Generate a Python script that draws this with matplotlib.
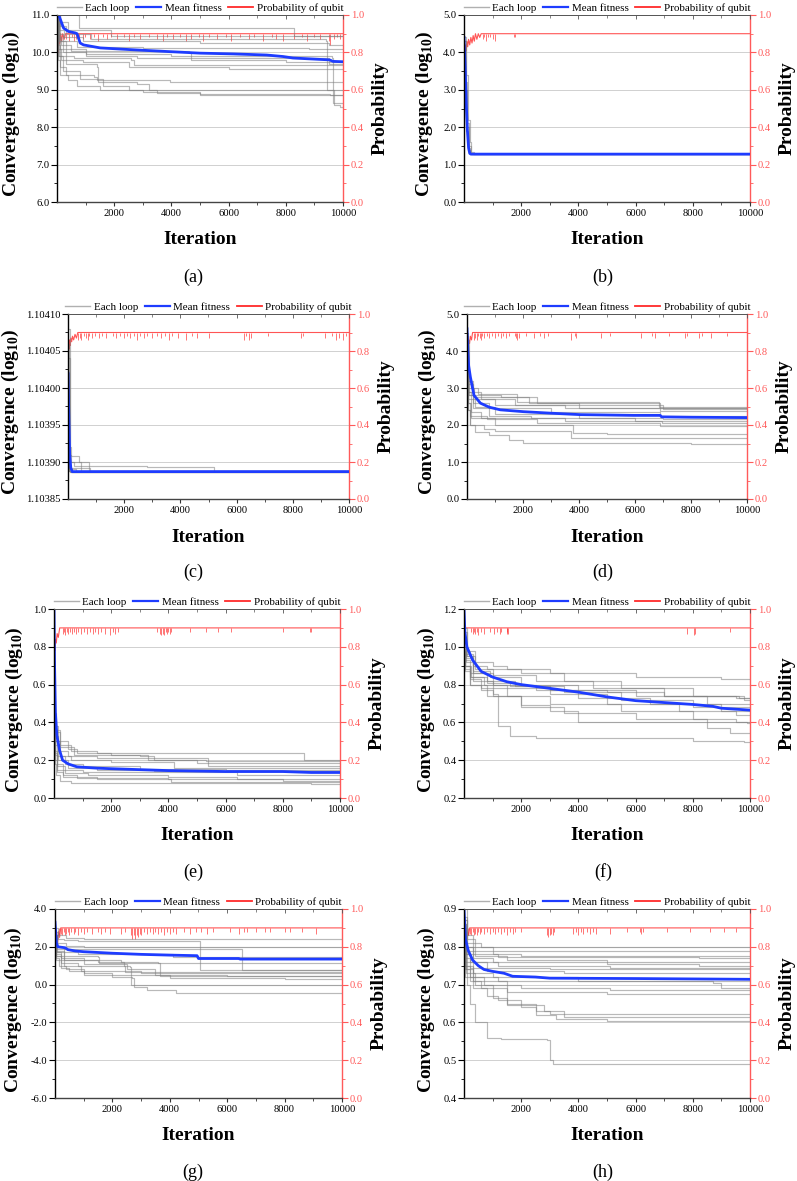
import matplotlib
matplotlib.use('Agg')
import matplotlib.pyplot as plt
from matplotlib.ticker import MultipleLocator, FormatStrFormatter, FixedLocator
from matplotlib.lines import Line2D

plt.rcParams['font.family'] = ['Liberation Serif', 'DejaVu Serif']
plt.rcParams['mathtext.fontset'] = 'custom'
plt.rcParams['mathtext.rm'] = 'Liberation Serif'
plt.rcParams['mathtext.bf'] = 'Liberation Serif:bold'

X_END = 10000
PROB_BASE = 0.9

# ---------------- panel (a) ----------------
a_loops = [
    [(0, 11.6), (700, 11.0), (760, 10.66), (8250, 10.66), (8300, 10.45)],
    [(0, 11.4), (120, 10.8), (400, 10.6), (1900, 10.45)],
    [(0, 11.3), (100, 10.7), (300, 10.5), (1200, 10.35), (9400, 10.3), (9450, 9.0), (9700, 8.6), (9900, 8.55)],
    [(0, 11.2), (80, 10.6), (250, 10.4), (900, 10.3), (5000, 10.25), (9500, 10.2)],
    [(0, 11.3), (60, 10.5), (200, 10.3), (700, 10.15), (3000, 10.12), (8800, 10.1)],
    [(0, 11.1), (50, 10.4), (150, 10.2), (500, 10.05), (4600, 10.0), (4700, 9.8), (8000, 9.75)],
    [(0, 11.2), (60, 10.3), (200, 10.0), (1000, 9.9), (2800, 9.85), (9500, 9.7)],
    [(0, 11.0), (40, 10.2), (120, 9.9), (600, 9.85), (2600, 9.8), (2700, 9.65)],
    [(0, 11.1), (50, 10.1), (150, 9.8), (900, 9.75), (2500, 9.6), (6000, 9.55)],
    [(0, 11.0), (30, 9.9), (100, 9.6), (300, 9.4), (1300, 9.35), (1400, 9.25), (3900, 9.25), (3950, 9.2)],
    [(0, 11.2), (100, 10.1), (300, 9.7), (1400, 9.6), (1450, 9.2), (2800, 9.15), (3200, 9.0)],
    [(0, 11.0), (40, 9.8), (120, 9.4), (400, 9.25), (700, 9.1), (1500, 9.0), (3000, 8.93), (5000, 8.9), (9550, 8.87)],
    [(0, 11.1), (60, 9.9), (200, 9.5), (800, 9.3), (1600, 9.1), (2500, 9.0), (3500, 8.92), (5000, 8.85)],
    [(0, 11.3), (80, 10.3), (300, 10.1), (1000, 9.95), (4000, 9.9), (9600, 9.85), (9650, 8.65)],
]
a_mean_x = [0, 60, 230, 400, 640, 700, 810, 930, 1510, 2670, 3950, 5000, 6160, 7330, 7900, 8250, 9530, 9650, 10000]
a_mean_y = [11.4, 11.0, 10.65, 10.56, 10.52, 10.5, 10.25, 10.2, 10.12, 10.07, 10.02, 9.98, 9.96, 9.93, 9.89, 9.85, 9.8, 9.76, 9.75]
a_prob = [(0, 0.72), (15, 0.86), (30, 0.80), (45, 0.88), (60, 0.84), (80, 0.89), (100, 0.85), (130, 0.9),
          (160, 0.86), (200, 0.9), (250, 0.87), (300, 0.9)]
a_spikes = [(330, 0.87), (420, 0.86), (520, 0.88), (600, 0.86), (680, 0.87), (760, 0.85), (900, 0.87), (980, 0.88),
            (1150, 0.87), (1300, 0.88), (1450, 0.86), (1600, 0.88), (1750, 0.87), (1900, 0.88), (2100, 0.87),
            (2350, 0.88), (2500, 0.86), (2700, 0.88), (2900, 0.87), (3200, 0.88), (3500, 0.87), (3700, 0.86),
            (3850, 0.88), (4050, 0.87), (4300, 0.88), (4500, 0.86), (4700, 0.87), (4950, 0.88), (5100, 0.86),
            (5300, 0.88), (5600, 0.87), (5900, 0.88), (6100, 0.86), (6400, 0.88), (6700, 0.87), (6900, 0.88),
            (7200, 0.86), (7500, 0.88), (7650, 0.87), (7900, 0.86), (8300, 0.87), (8550, 0.88), (8750, 0.86),
            (9000, 0.88), (9200, 0.87), (9500, 0.86), (9550, 0.84), (9700, 0.87), (9800, 0.88), (9900, 0.87)]

# ---------------- panel (b) ----------------
b_loops = [
    [(0, 4.3), (60, 3.2), (120, 2.1), (180, 1.5), (240, 1.32), (300, 1.28)],
    [(0, 4.1), (40, 3.0), (100, 2.0), (160, 1.45), (220, 1.3), (280, 1.28)],
    [(0, 4.4), (70, 3.4), (140, 2.2), (200, 1.6), (260, 1.35), (340, 1.28)],
    [(0, 3.9), (30, 2.8), (80, 1.9), (140, 1.4), (200, 1.29), (260, 1.28)],
]
b_mean_x = [0, 40, 80, 120, 160, 200, 240, 10000]
b_mean_y = [4.4, 3.6, 2.6, 1.9, 1.45, 1.3, 1.28, 1.28]
b_prob = [(0, 0.75), (20, 0.82), (40, 0.79), (60, 0.84), (80, 0.81), (100, 0.86), (130, 0.83), (160, 0.87),
          (200, 0.84), (240, 0.88), (280, 0.85), (320, 0.89), (360, 0.86), (400, 0.9), (450, 0.87),
          (500, 0.9), (550, 0.88), (600, 0.9)]
b_spikes = [(650, 0.87), (700, 0.88), (780, 0.86), (850, 0.88), (900, 0.88), (1000, 0.87), (1100, 0.86),
            (1750, 0.88), (1800, 0.88)]

# ---------------- panel (c) ----------------
c_loops = [
    [(0, 1.10408), (60, 1.10392), (100, 1.103908), (400, 1.1039), (750, 1.103888)],
    [(0, 1.10406), (50, 1.10391), (100, 1.1039), (450, 1.103888)],
    [(0, 1.10404), (60, 1.1039), (200, 1.103895), (2800, 1.103893), (5200, 1.103888)],
    [(0, 1.10402), (40, 1.103892), (800, 1.103888)],
    [(0, 1.10400), (30, 1.10389), (300, 1.103888)],
    [(0, 1.10398), (20, 1.103888), (100, 1.103887)],
    [(0, 1.10397), (20, 1.103888), (80, 1.103887)],
    [(0, 1.10395), (15, 1.103888), (60, 1.103887)],
    [(0, 1.10399), (25, 1.103889), (150, 1.103887)],
]
c_mean_x = [0, 30, 60, 100, 150, 10000]
c_mean_y = [1.10402, 1.10396, 1.10391, 1.103892, 1.103887, 1.103887]
c_prob = [(0, 0.8), (20, 0.83), (40, 0.81), (60, 0.86), (80, 0.83), (100, 0.87), (130, 0.85), (160, 0.88),
          (200, 0.86), (250, 0.89), (300, 0.87), (350, 0.9)]
c_spikes = [(350, 0.86), (420, 0.87), (480, 0.86), (560, 0.88), (640, 0.87), (700, 0.86), (760, 0.88),
            (850, 0.87), (950, 0.88), (1100, 0.87), (1200, 0.88), (1350, 0.87), (1600, 0.88), (1700, 0.87),
            (1850, 0.88), (2000, 0.87), (2100, 0.88), (2200, 0.87), (2350, 0.88), (2450, 0.86), (2550, 0.88),
            (2700, 0.87), (2800, 0.88), (3000, 0.87), (3150, 0.88), (3300, 0.87), (3450, 0.88), (3600, 0.86),
            (3700, 0.88), (3900, 0.87), (4200, 0.86), (4400, 0.88), (4600, 0.87), (5000, 0.87), (6250, 0.86),
            (6350, 0.88), (6450, 0.86), (6500, 0.87), (7100, 0.88), (8300, 0.87), (8350, 0.88), (9150, 0.87),
            (9400, 0.88), (9550, 0.86), (9650, 0.87), (9800, 0.86), (9900, 0.88)]

# ---------------- panel (d) ----------------
d_loops = [
    [(0, 4.5), (50, 3.2), (150, 3.0), (400, 2.85), (1800, 2.62), (6850, 2.48)],
    [(0, 4.3), (40, 3.1), (200, 2.8), (1200, 2.75), (2200, 2.6), (6900, 2.45)],
    [(0, 4.4), (50, 3.0), (250, 2.75), (2500, 2.6), (4000, 2.55), (7000, 2.42)],
    [(0, 4.2), (40, 2.9), (150, 2.7), (1000, 2.55), (4000, 2.45), (6900, 2.38)],
    [(0, 4.0), (30, 2.9), (200, 2.6), (800, 2.45), (3000, 2.35), (6900, 2.25)],
    [(0, 4.1), (40, 2.8), (300, 2.5), (1000, 2.3), (4000, 2.2), (7000, 2.15)],
    [(0, 4.3), (60, 2.8), (200, 2.45), (800, 2.25), (2300, 2.2), (6000, 2.1)],
    [(0, 4.2), (40, 2.7), (150, 2.35), (500, 2.2), (3500, 2.1), (6950, 2.05)],
    [(0, 3.9), (30, 2.6), (120, 2.25), (700, 2.15), (2500, 2.05), (6900, 1.98)],
    [(0, 4.1), (40, 2.6), (150, 2.2), (1000, 2.0), (3800, 1.78), (5000, 1.75)],
    [(0, 3.8), (30, 2.4), (100, 2.0), (600, 1.9), (1000, 1.85), (3700, 1.66)],
    [(0, 4.0), (30, 2.4), (100, 2.0), (300, 1.8), (800, 1.72), (1500, 1.6), (2000, 1.52), (8000, 1.48)],
    [(0, 4.3), (50, 3.2), (200, 2.9), (500, 2.7), (1700, 2.55), (3500, 2.45)],
]
d_mean_x = [0, 30, 60, 120, 250, 480, 800, 1190, 2020, 2980, 4050, 5950, 6900, 6950, 8000, 10000]
d_mean_y = [4.6, 4.0, 3.6, 3.3, 2.8, 2.59, 2.48, 2.41, 2.36, 2.32, 2.28, 2.26, 2.26, 2.22, 2.21, 2.2]
d_prob = [(0, 0.8), (20, 0.84), (40, 0.82), (60, 0.86), (90, 0.84), (120, 0.88), (160, 0.86), (200, 0.9)]
d_spikes = [(250, 0.86), (300, 0.87), (350, 0.86), (400, 0.88), (450, 0.87), (500, 0.86), (550, 0.88),
            (600, 0.87), (700, 0.88), (800, 0.87), (900, 0.88), (1000, 0.87), (1100, 0.88), (1200, 0.87),
            (1300, 0.88), (1400, 0.87), (1500, 0.88), (1700, 0.88), (1750, 0.87), (1800, 0.86), (1850, 0.87),
            (2100, 0.88), (2400, 0.87), (2600, 0.88), (2750, 0.87), (2900, 0.88), (3700, 0.86), (3850, 0.88),
            (3900, 0.87), (4800, 0.87), (5100, 0.88), (6200, 0.87), (6600, 0.88), (6700, 0.87), (7200, 0.88),
            (7800, 0.87), (7850, 0.88), (8300, 0.87), (8400, 0.88), (8700, 0.87), (9300, 0.88)]

# ---------------- panel (e) ----------------
e_loops = [
    [(0, 0.5), (50, 0.38), (150, 0.3), (500, 0.26), (800, 0.24), (8700, 0.24), (8750, 0.2)],
    [(0, 0.45), (60, 0.35), (200, 0.28), (600, 0.25), (1500, 0.24), (2000, 0.23), (3300, 0.2), (5300, 0.195)],
    [(0, 0.48), (40, 0.36), (200, 0.27), (700, 0.23), (3000, 0.22), (3500, 0.2), (5000, 0.185)],
    [(0, 0.42), (50, 0.33), (150, 0.25), (500, 0.22), (1500, 0.21), (5400, 0.17)],
    [(0, 0.44), (40, 0.3), (200, 0.22), (600, 0.2), (2000, 0.19), (4200, 0.16)],
    [(0, 0.40), (30, 0.3), (100, 0.22), (400, 0.18), (1000, 0.17), (3000, 0.155), (6000, 0.15)],
    [(0, 0.41), (40, 0.28), (150, 0.2), (500, 0.16), (1500, 0.15), (3500, 0.145)],
    [(0, 0.38), (30, 0.25), (100, 0.18), (300, 0.15), (1000, 0.14), (6400, 0.12)],
    [(0, 0.40), (30, 0.24), (100, 0.17), (400, 0.13), (1200, 0.12), (4000, 0.11), (6400, 0.1)],
    [(0, 0.39), (30, 0.23), (100, 0.15), (300, 0.12), (800, 0.105), (4000, 0.1), (8000, 0.09)],
    [(0, 0.37), (20, 0.2), (100, 0.14), (300, 0.11), (1500, 0.1), (4100, 0.085)],
    [(0, 0.36), (20, 0.18), (80, 0.12), (200, 0.09), (600, 0.078), (9000, 0.075)],
]
e_mean_x = [0, 20, 50, 100, 200, 300, 500, 800, 1500, 2000, 3000, 4000, 6000, 8000, 9000, 10000]
e_mean_y = [1.0, 0.7, 0.45, 0.33, 0.25, 0.2, 0.18, 0.165, 0.158, 0.155, 0.15, 0.145, 0.14, 0.14, 0.135, 0.135]
e_prob = [(0, 0.7), (15, 0.8), (30, 0.78), (50, 0.84), (80, 0.82), (110, 0.87), (150, 0.85), (200, 0.9)]
e_spikes = [(300, 0.87), (350, 0.88), (400, 0.86), (450, 0.88), (500, 0.87), (560, 0.88), (620, 0.87),
            (700, 0.88), (780, 0.87), (850, 0.88), (950, 0.87), (1050, 0.88), (1150, 0.87), (1250, 0.88),
            (1350, 0.87), (1450, 0.88), (1550, 0.87), (1650, 0.88), (1800, 0.87), (1950, 0.86), (2050, 0.88),
            (2150, 0.87), (2250, 0.88), (3600, 0.88), (3700, 0.87), (3750, 0.86), (3800, 0.87), (3850, 0.86),
            (3900, 0.88), (3950, 0.87), (4000, 0.88), (4050, 0.87), (4100, 0.88), (4750, 0.88), (5300, 0.88),
            (5750, 0.88), (6200, 0.88), (8000, 0.88), (8950, 0.88), (9000, 0.88)]

# ---------------- panel (f) ----------------
f_loops = [
    [(0, 1.1), (100, 0.98), (400, 0.92), (1000, 0.9), (1500, 0.88), (3000, 0.86), (6000, 0.84), (9000, 0.83)],
    [(0, 1.05), (80, 0.96), (300, 0.9), (800, 0.88), (2000, 0.86), (3500, 0.82), (5500, 0.78), (8000, 0.74), (9500, 0.73)],
    [(0, 1.08), (100, 0.95), (400, 0.88), (1000, 0.85), (2500, 0.82), (4500, 0.78), (7000, 0.74), (9800, 0.72)],
    [(0, 1.02), (60, 0.94), (300, 0.87), (900, 0.84), (2000, 0.8), (4000, 0.77), (6000, 0.74), (8500, 0.7)],
    [(0, 1.0), (50, 0.93), (200, 0.86), (800, 0.82), (1800, 0.79), (3500, 0.76), (5500, 0.72), (8000, 0.68)],
    [(0, 1.03), (70, 0.95), (300, 0.86), (1000, 0.8), (2500, 0.77), (4000, 0.73), (6500, 0.7), (9000, 0.66)],
    [(0, 0.98), (50, 0.9), (200, 0.84), (700, 0.8), (1500, 0.78), (3000, 0.75), (5000, 0.7), (7500, 0.66), (9500, 0.64)],
    [(0, 0.97), (40, 0.9), (200, 0.83), (600, 0.78), (1500, 0.74), (3000, 0.7), (5500, 0.66), (8000, 0.62), (9500, 0.6)],
    [(0, 1.0), (60, 0.92), (300, 0.82), (1000, 0.74), (2000, 0.69), (3000, 0.66), (4000, 0.6), (9900, 0.595)],
    [(0, 0.96), (40, 0.88), (200, 0.8), (800, 0.74), (2000, 0.68), (3500, 0.65), (6000, 0.62), (8500, 0.57), (9300, 0.545)],
    [(0, 0.95), (40, 0.87), (200, 0.8), (600, 0.77), (1000, 0.75), (1190, 0.58), (1600, 0.53), (2500, 0.52), (8000, 0.5), (9800, 0.495)],
    [(0, 0.99), (50, 0.9), (250, 0.84), (800, 0.81), (1600, 0.79), (3000, 0.77), (5000, 0.76), (7000, 0.74), (9600, 0.73)],
]
f_mean_x = [0, 30, 100, 300, 600, 1000, 1500, 2000, 3000, 4000, 5000, 6000, 7000, 8000, 8700, 9000, 10000]
f_mean_y = [1.2, 1.08, 1.0, 0.93, 0.87, 0.84, 0.815, 0.8, 0.78, 0.76, 0.735, 0.715, 0.705, 0.695, 0.685, 0.675, 0.665]
f_prob = [(0, 0.5), (20, 0.8), (40, 0.9)]
f_spikes = [(250, 0.88), (300, 0.87), (350, 0.88), (400, 0.87), (450, 0.88), (500, 0.86), (600, 0.88),
            (700, 0.87), (900, 0.88), (1050, 0.87), (1150, 0.88), (1250, 0.87), (1300, 0.88), (1500, 0.87),
            (1520, 0.88), (1550, 0.87), (7800, 0.87), (8050, 0.86), (8060, 0.87), (9300, 0.88)]

# ---------------- panel (g) ----------------
g_loops = [
    [(0, 3.0), (100, 2.6), (400, 2.45), (1000, 2.42)],
    [(0, 2.8), (100, 2.4), (300, 2.35), (800, 2.3), (5000, 2.3), (5050, 0.75)],
    [(0, 2.6), (80, 2.2), (400, 2.05), (1000, 1.97)],
    [(0, 2.5), (60, 2.0), (300, 1.9), (1500, 1.88), (6450, 1.88), (6500, 0.75)],
    [(0, 2.6), (60, 1.9), (300, 1.7), (800, 1.6), (4100, 1.45)],
    [(0, 2.4), (50, 1.8), (300, 1.5), (1500, 1.45), (1550, 1.15)],
    [(0, 2.3), (50, 1.7), (200, 1.4), (1000, 1.3), (2300, 1.2), (3600, 1.15), (3650, 0.45)],
    [(0, 2.5), (50, 1.6), (200, 1.3), (1500, 1.2), (2400, 1.0), (2450, 0.65)],
    [(0, 2.2), (40, 1.5), (200, 1.15), (800, 1.0), (2600, 0.95), (2650, 0.0)],
    [(0, 2.1), (40, 1.3), (200, 0.9), (500, 0.7), (1000, 0.6), (2000, 0.4), (2700, 0.35), (2750, -0.15), (3200, -0.3), (4200, -0.45)],
    [(0, 2.3), (40, 1.4), (150, 1.0), (400, 0.8), (1000, 0.5), (4000, 0.35), (8000, 0.3)],
    [(0, 2.2), (50, 1.5), (300, 1.0), (900, 0.7), (3000, 0.6)],
    [(0, 2.4), (60, 1.7), (300, 1.3), (1000, 1.1), (2500, 0.8), (3500, 0.5), (6000, 0.45)],
]
g_mean_x = [0, 50, 100, 350, 450, 700, 1000, 2000, 3000, 4000, 4950, 5000, 6400, 6450, 10000]
g_mean_y = [3.3, 2.2, 2.0, 1.95, 1.85, 1.78, 1.74, 1.66, 1.6, 1.56, 1.53, 1.38, 1.38, 1.35, 1.35]
g_prob = [(0, 0.72), (20, 0.82), (40, 0.78), (60, 0.86), (90, 0.82), (120, 0.88), (160, 0.85), (200, 0.9)]
g_spikes = [(150, 0.86), (200, 0.87), (250, 0.86), (300, 0.88), (350, 0.86), (400, 0.87), (450, 0.88),
            (500, 0.86), (550, 0.88), (650, 0.87), (700, 0.88), (800, 0.86), (900, 0.88), (1000, 0.87),
            (1100, 0.88), (1300, 0.87), (1500, 0.88), (1600, 0.87), (1750, 0.88), (1900, 0.87), (2300, 0.87),
            (2450, 0.88), (2650, 0.86), (2700, 0.84), (2750, 0.86), (2800, 0.84), (2850, 0.86), (2900, 0.85),
            (2950, 0.87), (3000, 0.86), (3100, 0.88), (3200, 0.87), (3300, 0.88), (3400, 0.87), (3500, 0.88),
            (3600, 0.87), (3700, 0.88), (3800, 0.86), (3900, 0.88), (4000, 0.87), (4100, 0.88), (4200, 0.87),
            (4500, 0.88), (4700, 0.87), (4900, 0.88), (5100, 0.88), (5300, 0.87), (5500, 0.88), (6100, 0.88),
            (6400, 0.87), (6600, 0.88), (6700, 0.88), (7000, 0.88), (7300, 0.88), (7500, 0.88), (8000, 0.88),
            (8200, 0.88), (8600, 0.88), (9100, 0.87)]

# ---------------- panel (h) ----------------
h_loops = [
    [(0, 0.88), (100, 0.83), (300, 0.81), (600, 0.8)],
    [(0, 0.87), (100, 0.82), (400, 0.8), (1000, 0.79)],
    [(0, 0.86), (80, 0.81), (300, 0.79), (1000, 0.78), (2000, 0.775)],
    [(0, 0.87), (100, 0.8), (300, 0.78), (1200, 0.772), (8200, 0.77)],
    [(0, 0.85), (80, 0.8), (400, 0.775), (1500, 0.765), (5000, 0.76)],
    [(0, 0.86), (60, 0.79), (300, 0.77), (1000, 0.76), (5000, 0.755), (8200, 0.75)],
    [(0, 0.84), (60, 0.78), (300, 0.76), (1200, 0.75), (5100, 0.745)],
    [(0, 0.85), (60, 0.78), (200, 0.76), (800, 0.745), (3000, 0.74)],
    [(0, 0.83), (50, 0.77), (200, 0.745), (800, 0.735), (3500, 0.73)],
    [(0, 0.84), (50, 0.76), (300, 0.73), (1000, 0.72), (4000, 0.71)],
    [(0, 0.82), (50, 0.75), (300, 0.72), (1200, 0.71), (8700, 0.705), (9000, 0.69)],
    [(0, 0.83), (50, 0.75), (200, 0.72), (700, 0.7), (2000, 0.69), (5100, 0.685)],
    [(0, 0.81), (50, 0.74), (200, 0.71), (600, 0.69), (1500, 0.68), (5000, 0.675)],
    [(0, 0.8), (60, 0.73), (400, 0.7), (1000, 0.665), (1500, 0.645), (2800, 0.63), (3000, 0.622)],
    [(0, 0.82), (60, 0.74), (300, 0.71), (1500, 0.7), (1520, 0.65), (2500, 0.63), (3500, 0.615)],
    [(0, 0.79), (50, 0.72), (300, 0.69), (800, 0.67), (1200, 0.66), (2000, 0.64), (2500, 0.62), (3200, 0.61), (5000, 0.605)],
    [(0, 0.9), (100, 0.7), (200, 0.65), (400, 0.6), (800, 0.56), (1300, 0.555), (2900, 0.553), (3000, 0.5), (3100, 0.49)],
]
h_mean_x = [0, 50, 150, 300, 500, 700, 1000, 1400, 1700, 2500, 3000, 6000, 10000]
h_mean_y = [0.9, 0.82, 0.79, 0.765, 0.75, 0.74, 0.735, 0.73, 0.722, 0.72, 0.717, 0.716, 0.714]
h_prob = [(0, 0.78), (20, 0.84), (40, 0.82), (60, 0.87), (90, 0.84), (120, 0.88), (160, 0.86), (200, 0.9)]
h_spikes = [(150, 0.86), (200, 0.87), (250, 0.86), (300, 0.88), (350, 0.86), (400, 0.87), (450, 0.86),
            (500, 0.88), (550, 0.87), (600, 0.88), (700, 0.87), (800, 0.88), (900, 0.87), (1000, 0.88),
            (1100, 0.87), (1200, 0.88), (1300, 0.87), (1400, 0.88), (1500, 0.86), (1600, 0.88), (1700, 0.87),
            (1800, 0.88), (2000, 0.88), (2900, 0.86), (2950, 0.85), (3000, 0.86), (3050, 0.87), (3100, 0.86),
            (3150, 0.88), (3800, 0.87), (3900, 0.88), (4000, 0.86), (4100, 0.88), (4150, 0.87), (4300, 0.88),
            (4400, 0.87), (4500, 0.88), (4600, 0.87), (5100, 0.87), (5700, 0.88), (6150, 0.88), (6200, 0.87),
            (6250, 0.88), (7100, 0.88), (7900, 0.88), (8600, 0.88), (9100, 0.88), (9500, 0.88)]

# y-axis settings per panel: (ymin, ymax, major step, minor step, format)
a_yaxis = (6.0, 11.0, 1.0, 0.5, '%.1f')
b_yaxis = (0.0, 5.0, 1.0, 0.5, '%.1f')
c_yaxis = (1.10385, 1.10410, 0.00005, 0.000025, '%.5f')
d_yaxis = (0.0, 5.0, 1.0, 0.5, '%.1f')
e_yaxis = (0.0, 1.0, 0.2, 0.1, '%.1f')
f_yaxis = (0.2, 1.2, 0.2, 0.1, '%.1f')
g_yaxis = (-6.0, 4.0, 2.0, 1.0, '%.1f')
h_yaxis = (0.4, 0.9, 0.1, 0.05, '%.1f')

x_ticks = [2000, 4000, 6000, 8000, 10000]
x_minor = [1000, 3000, 5000, 7000, 9000]
prob_ticks = [0.0, 0.2, 0.4, 0.6, 0.8, 1.0]
prob_minor = [0.1, 0.3, 0.5, 0.7, 0.9]
legend_labels = ['Each loop', 'Mean fitness', 'Probability of qubit']
captions = ['(a)', '(b)', '(c)', '(d)', '(e)', '(f)', '(g)', '(h)']

# ---------------- layout (pixels) ----------------
W, H = 797, 1181
boxes = [(57, 15, 343, 202), (464, 15, 750, 202),
         (68, 314, 349, 499), (467, 314, 747, 499),
         (54, 609, 340, 798), (464, 609, 750, 798),
         (55, 909, 342, 1098), (464, 909, 750, 1098)]
ylab_off = [46, 40, 58, 40, 40, 38, 42, 38]
cap_pos = [(193, 277), (603, 277), (193, 572), (603, 572), (193, 872), (603, 872), (193, 1172), (603, 1172)]

GRAY = '#808080'
BLUE = '#1e3cff'
RED = '#ff2a2a'
RED_AX = '#ff5a5a'
TICK_FS = 7.6

panels = [
    (a_loops, a_mean_x, a_mean_y, a_prob, a_spikes, a_yaxis),
    (b_loops, b_mean_x, b_mean_y, b_prob, b_spikes, b_yaxis),
    (c_loops, c_mean_x, c_mean_y, c_prob, c_spikes, c_yaxis),
    (d_loops, d_mean_x, d_mean_y, d_prob, d_spikes, d_yaxis),
    (e_loops, e_mean_x, e_mean_y, e_prob, e_spikes, e_yaxis),
    (f_loops, f_mean_x, f_mean_y, f_prob, f_spikes, f_yaxis),
    (g_loops, g_mean_x, g_mean_y, g_prob, g_spikes, g_yaxis),
    (h_loops, h_mean_x, h_mean_y, h_prob, h_spikes, h_yaxis),
]

fig = plt.figure(figsize=(W / 100, H / 100), dpi=100)

for i, (loops, mx, my, prob, spikes, yax) in enumerate(panels):
    l, t, r, b = boxes[i]
    wpx, hpx = r - l, b - t
    rect = [l / W, 1 - b / H, wpx / W, hpx / H]
    ax2 = fig.add_axes(rect)
    ax = fig.add_axes(rect, sharex=ax2)
    ax.patch.set_visible(False)

    # probability axis (underneath)
    ax2.set_ylim(0, 1)
    ax2.yaxis.tick_right()
    ax2.yaxis.set_label_position('right')
    ax2.yaxis.set_major_locator(FixedLocator(prob_ticks))
    ax2.yaxis.set_minor_locator(FixedLocator(prob_minor))
    ax2.yaxis.set_major_formatter(FormatStrFormatter('%.1f'))
    ax2.tick_params(axis='y', which='major', colors=RED_AX, length=4, width=0.8, labelsize=TICK_FS, pad=1.5)
    ax2.tick_params(axis='y', which='minor', colors=RED_AX, length=2, width=0.6)
    ax2.tick_params(axis='x', which='both', bottom=False, labelbottom=False)
    for s in ['left', 'top', 'bottom']:
        ax2.spines[s].set_visible(False)
    ax2.spines['right'].set_color(RED_AX)
    ax2.spines['right'].set_linewidth(1.0)
    ax2.grid(axis='y', which='major', color='#d0d0d0', lw=0.7)
    ax2.set_axisbelow(True)

    px = [p[0] for p in prob] + [X_END]
    py = [p[1] for p in prob] + [PROB_BASE]
    ax2.plot(px, py, color=RED, lw=0.8, alpha=0.8)
    ax2.vlines([s[0] for s in spikes], [s[1] for s in spikes], PROB_BASE, color=RED, lw=0.6, alpha=0.75)
    ax2.set_ylabel('Probability', fontsize=14, fontweight='bold')
    ax2.yaxis.set_label_coords(1 + 37 / wpx, 0.5)
    ax2.yaxis.label.set_va('center')

    # convergence axis
    for pts in loops:
        xs = [p[0] for p in pts] + [X_END]
        ys = [p[1] for p in pts] + [pts[-1][1]]
        ax.plot(xs, ys, drawstyle='steps-post', color=GRAY, alpha=0.55, lw=0.85)
    ax.plot(mx, my, color=BLUE, lw=2.0)

    ymin, ymax, ystep, yminor, yfmt = yax
    ax.set_ylim(ymin, ymax)
    ax.yaxis.set_major_locator(MultipleLocator(ystep))
    ax.yaxis.set_minor_locator(MultipleLocator(yminor))
    ax.yaxis.set_major_formatter(FormatStrFormatter(yfmt))
    ax.set_xlim(0, X_END)
    ax.xaxis.set_major_locator(FixedLocator(x_ticks))
    ax.xaxis.set_minor_locator(FixedLocator(x_minor))
    ax.tick_params(axis='y', which='major', length=4, width=0.8, labelsize=TICK_FS, pad=1.5, direction='out')
    ax.tick_params(axis='y', which='minor', length=2, width=0.6, direction='out')
    ax.tick_params(axis='x', which='major', length=3, width=0.8, labelsize=TICK_FS, pad=2, direction='out',
                   colors='#333333', labelcolor='black')
    ax.tick_params(axis='x', which='minor', length=2, width=0.6, direction='out', colors='#333333')
    ax.spines['right'].set_visible(False)
    ax.spines['left'].set_color('black')
    ax.spines['left'].set_linewidth(1.0)
    ax.spines['bottom'].set_color('#444444')
    ax.spines['bottom'].set_linewidth(1.0)
    ax.spines['top'].set_color('#555555')
    ax.spines['top'].set_linewidth(0.7)
    sec = ax.secondary_xaxis('top')
    sec.xaxis.set_major_locator(FixedLocator(x_ticks))
    sec.xaxis.set_minor_locator(FixedLocator(x_minor))
    sec.tick_params(axis='x', which='major', direction='in', length=3, width=0.6, labeltop=False, colors='#555555')
    sec.tick_params(axis='x', which='minor', direction='in', length=2, width=0.5, colors='#555555')
    sec.spines['top'].set_visible(False)

    ax.set_xlabel('Iteration', fontsize=14, fontweight='bold')
    ax.xaxis.set_label_coords(0.5, -38 / hpx)
    ax.xaxis.label.set_va('center')
    ax.set_ylabel(r'Convergence (log$_{\mathbf{10}}$)', fontsize=14, fontweight='bold')
    ax.yaxis.set_label_coords(-ylab_off[i] / wpx, 0.47)
    ax.yaxis.label.set_va('center')

    handles = [Line2D([], [], color='#b0b0b0', lw=1.0),
               Line2D([], [], color=BLUE, lw=1.6),
               Line2D([], [], color=RED, lw=1.3)]
    ax.legend(handles, legend_labels, loc='lower center', bbox_to_anchor=(0.5, 1.0), ncol=3, frameon=False,
              fontsize=7.9, handlelength=2.3, handletextpad=0.3, columnspacing=0.6, borderpad=0.15,
              borderaxespad=0.05)

    cx, cy = cap_pos[i]
    fig.text(cx / W, 1 - cy / H, captions[i], ha='center', va='center', fontsize=13)

fig.savefig('out.png', dpi=100)
